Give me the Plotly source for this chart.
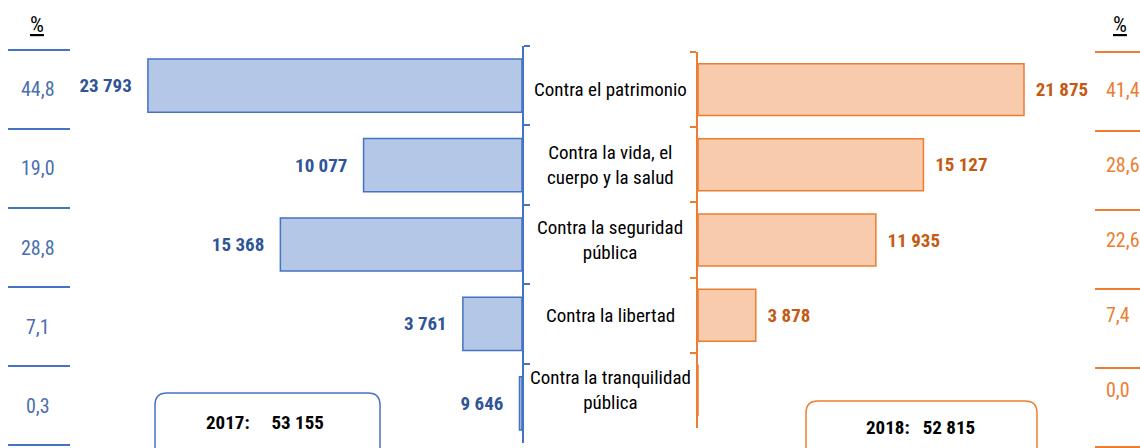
import plotly.graph_objects as go

W, H = 1140, 448

categories = ['Contra el patrimonio', 'Contra la vida, el<br>cuerpo y la salud',
              'Contra la seguridad<br>pública', 'Contra la libertad',
              'Contra la tranquilidad<br>pública']
cat_keys = ['patrimonio', 'vida', 'seguridad', 'libertad', 'tranquilidad']

values_2017 = [23793, 10077, 15368, 3761, 160]
labels_2017 = ['23 793', '10 077', '15 368', '3 761', '9 646']
pct_2017 = ['44,8', '19,0', '28,8', '7,1', '0,3']
total_2017 = '53 155'

values_2018 = [21875, 15127, 11935, 3878, 0]
labels_2018 = ['21 875', '15 127', '11 935', '3 878', '']
pct_2018 = ['41,4', '28,6', '22,6', '7,4', '0,0']
total_2018 = '52 815'

BLUE = '#4472C4'
BLUE_FILL = '#B4C7E7'
BLUE_TXT = '#2F5597'
ORANGE = '#ED7D31'
ORANGE_FILL = '#F8CBAD'
ORANGE_TXT = '#C55A11'
FONT = 'Roboto Condensed, Liberation Sans Narrow, sans-serif'
NB = '\u00a0'


def px(x):
    return x / W


def py(y):
    return 1 - y / H


fig = go.Figure()

fig.add_trace(go.Bar(x=values_2017, y=cat_keys, orientation='h', xaxis='x', yaxis='y',
                     width=0.67, marker=dict(color=BLUE_FILL, line=dict(color=BLUE, width=1.5)),
                     text=[t + NB * 3 for t in labels_2017], textposition='outside', cliponaxis=False,
                     textfont=dict(family=FONT, size=19, color=BLUE_TXT, weight='bold'),
                     hoverinfo='x+y'))

fig.add_trace(go.Bar(x=values_2018, y=cat_keys, orientation='h', xaxis='x2', yaxis='y2',
                     width=0.69, marker=dict(color=ORANGE_FILL, line=dict(color=ORANGE, width=1.5)),
                     text=[NB * 2 + t for t in labels_2018], textposition='outside', cliponaxis=False,
                     textfont=dict(family=FONT, size=19, color=ORANGE_TXT, weight='bold'),
                     hoverinfo='x+y'))

annotations = []
shapes = []

# category names in the middle
for key, name in zip(cat_keys, categories):
    annotations.append(dict(x=px(610), y=key, xref='paper', yref='y2', text=name,
                            xanchor='center', yanchor='middle',
                            showarrow=False, align='center',
                            font=dict(family=FONT, size=19, color='#000000')))

# percentage columns
for key, p in zip(cat_keys, pct_2017):
    annotations.append(dict(x=px(38), y=key, xref='paper', yref='y', text=p, showarrow=False,
                            xanchor='center', yanchor='middle', yshift=-3,
                            font=dict(family=FONT, size=20, color='#4A6FB0')))
for key, p in zip(cat_keys, pct_2018):
    annotations.append(dict(x=px(1104), y=key, xref='paper', yref='y2', text=p, showarrow=False,
                            xanchor='left', yanchor='middle',
                            font=dict(family=FONT, size=20, color=ORANGE)))

for i in range(len(cat_keys) + 1):
    shapes.append(dict(type='line', xref='paper', yref='paper', x0=px(8), x1=px(70),
                       y0=py(50 + 79 * i), y1=py(50 + 79 * i), line=dict(color=BLUE, width=2)))
    shapes.append(dict(type='line', xref='paper', yref='paper', x0=px(1095), x1=px(1145),
                       y0=py(52 + 79 * i), y1=py(52 + 79 * i), line=dict(color=ORANGE, width=2)))

for xc in (37, 1120):
    annotations.append(dict(x=px(xc), y=py(25), xref='paper', yref='paper', text='<u>%</u>',
                            xanchor='center', yanchor='middle', showarrow=False,
                            font=dict(family=FONT, size=22, color='#000000')))


def rounded_box(x0, y0, x1, y1, r):
    rx, ry = r / W, r / H
    X0, X1, Y0, Y1 = px(x0), px(x1), py(y0), py(y1)
    return (f'M {X0},{Y1} L {X0},{Y0 - ry} Q {X0},{Y0} {X0 + rx},{Y0} '
            f'L {X1 - rx},{Y0} Q {X1},{Y0} {X1},{Y0 - ry} L {X1},{Y1}')


shapes.append(dict(type='path', xref='paper', yref='paper', path=rounded_box(155, 393, 380, 470, 12),
                   line=dict(color=BLUE, width=1.5)))
shapes.append(dict(type='path', xref='paper', yref='paper', path=rounded_box(806, 401, 1037, 470, 12),
                   line=dict(color=ORANGE, width=1.5)))
annotations.append(dict(x=px(265), y=py(422), xref='paper', yref='paper',
                        xanchor='center', yanchor='middle',
                        text='<b>2017:' + NB * 5 + total_2017 + '</b>', showarrow=False,
                        font=dict(family=FONT, size=19, color='#000000')))
annotations.append(dict(x=px(920), y=py(427), xref='paper', yref='paper',
                        xanchor='center', yanchor='middle',
                        text='<b>2018:' + NB * 3 + total_2018 + '</b>', showarrow=False,
                        font=dict(family=FONT, size=19, color='#000000')))

fig.update_layout(
    width=W, height=H, margin=dict(l=0, r=0, t=0, b=0),
    paper_bgcolor='white', plot_bgcolor='white', showlegend=False,
    barmode='overlay',
    xaxis=dict(domain=[0, px(522)], range=[33200, 0], visible=False, fixedrange=True),
    xaxis2=dict(domain=[px(698), 1], range=[0, 29660], visible=False, fixedrange=True),
    yaxis=dict(domain=[py(443), py(46)], anchor='x', side='right', type='category',
               categoryorder='array', categoryarray=cat_keys, autorange='reversed',
               showline=True, linecolor=BLUE, linewidth=2, ticks='outside', tickson='boundaries',
               ticklen=6, tickcolor=BLUE, tickwidth=2, showticklabels=False, showgrid=False,
               zeroline=False, fixedrange=True),
    yaxis2=dict(domain=[py(428), py(52)], anchor='x2', side='left', type='category',
                categoryorder='array', categoryarray=cat_keys, autorange='reversed',
                showline=True, linecolor=ORANGE, linewidth=2, ticks='outside', tickson='boundaries',
                ticklen=6, tickcolor=ORANGE, tickwidth=2, showticklabels=False, showgrid=False,
                zeroline=False, fixedrange=True),
    annotations=annotations,
    shapes=shapes,
)

fig.write_html('out.html', config={'displayModeBar': False},
               post_script="document.body.style.margin='0';")
